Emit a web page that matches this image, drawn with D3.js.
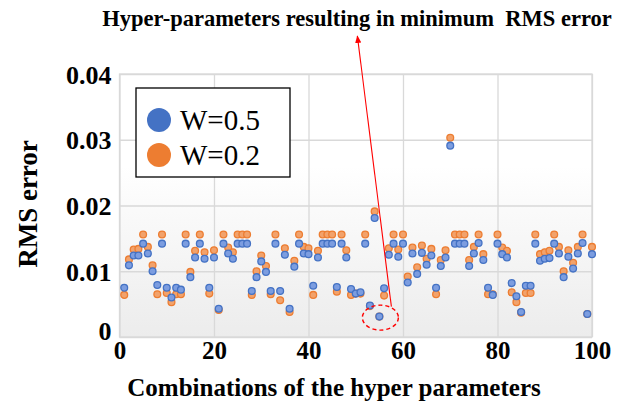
<!DOCTYPE html>
<html>
<head>
<meta charset="utf-8">
<script src="https://cdn.jsdelivr.net/npm/d3@7"></script>
<style>
body { margin: 0; background: #fff; }
</style>
</head>
<body>
<div id="chart"></div>
<script>
// combination index 1..100
var combos = d3.range(1, 101);
var rmsW05 = [0.0075,0.0109,0.0124,0.0124,0.0142,0.0127,0.0100,0.0079,0.0142,0.0075,
  0.0060,0.0075,0.0072,0.0142,0.0091,0.0121,0.0142,0.0119,0.0075,0.0121,
  0.0043,0.0142,0.0127,0.0119,0.0142,0.0142,0.0142,0.0070,0.0091,0.0115,
  0.0099,0.0070,0.0142,0.0070,0.0125,0.0043,0.0107,0.0142,0.0127,0.0126,
  0.0078,0.0121,0.0142,0.0142,0.0142,0.0076,0.0142,0.0121,0.0073,0.0066,
  0.0068,0.0142,0.0048,0.0181,0.0031,0.0074,0.0125,0.0142,0.0122,0.0142,
  0.0083,0.0127,0.0096,0.0128,0.0110,0.0124,0.0075,0.0108,0.0121,0.0291,
  0.0142,0.0142,0.0142,0.0108,0.0127,0.0143,0.0117,0.0075,0.0064,0.0142,
  0.0126,0.0121,0.0082,0.0062,0.0038,0.0078,0.0078,0.0142,0.0116,0.0119,
  0.0120,0.0142,0.0127,0.0091,0.0122,0.0104,0.0127,0.0143,0.0035,0.0126];
var rmsW02 = [0.0064,0.0118,0.0133,0.0134,0.0156,0.0137,0.0109,0.0065,0.0156,0.0067,
  0.0053,0.0065,0.0065,0.0156,0.0099,0.0131,0.0156,0.0129,0.0066,0.0132,
  0.0041,0.0156,0.0136,0.0129,0.0156,0.0156,0.0156,0.0064,0.0100,0.0124,
  0.0108,0.0065,0.0156,0.0056,0.0135,0.0038,0.0116,0.0156,0.0137,0.0135,
  0.0064,0.0131,0.0156,0.0156,0.0156,0.0069,0.0156,0.0132,0.0064,0.0066,
  0.0066,0.0156,0.0047,0.0191,0.0031,0.0063,0.0135,0.0156,0.0133,0.0156,
  0.0092,0.0136,0.0106,0.0139,0.0119,0.0134,0.0065,0.0117,0.0132,0.0303,
  0.0156,0.0156,0.0156,0.0117,0.0137,0.0156,0.0126,0.0065,0.0065,0.0156,
  0.0136,0.0131,0.0068,0.0053,0.0037,0.0067,0.0067,0.0156,0.0126,0.0129,
  0.0131,0.0156,0.0137,0.0100,0.0132,0.0113,0.0137,0.0156,0.0035,0.0137];
var xTicks = [0, 20, 40, 60, 80, 100];
var yTicks = [0, 0.01, 0.02, 0.03, 0.04];
var seriesNames = ["W=0.5", "W=0.2"];
var bestIdx = 55; // minimum RMS error

var mrg = { top: 74, right: 29, bottom: 68, left: 119.5 },
    svgWidth = 621 - mrg.left - mrg.right,
    svgHeight = 405 - mrg.top - mrg.bottom;

var svg = d3.select("#chart")
  .append("svg")
  .attr("width", 621)
  .attr("height", 405)
  .style("font-family", "'Liberation Serif', 'Times New Roman', serif");

var defs = svg.append("defs");
var grad = defs.append("linearGradient")
  .attr("id", "bg").attr("x1", 0).attr("y1", 0).attr("x2", 0).attr("y2", 1);
grad.append("stop").attr("offset", "0.35").attr("stop-color", "#ffffff");
grad.append("stop").attr("offset", "1").attr("stop-color", "#ececec");

defs.append("marker")
  .attr("id", "arrow")
  .attr("viewBox", "0 0 10 10")
  .attr("refX", 9).attr("refY", 5)
  .attr("markerWidth", 7).attr("markerHeight", 7)
  .attr("orient", "auto")
  .append("path")
  .attr("d", "M0,1 L10,5 L0,9 z")
  .attr("fill", "#ff0000");

var chart = svg.append("g")
  .attr("transform", `translate(${mrg.left}, ${mrg.top})`);

var xScale = d3.scaleLinear().domain([0, 100]).range([0, svgWidth]);
var yScale = d3.scaleLinear().domain([0, 0.04]).range([svgHeight, 0]);

chart.append("rect")
  .attr("width", svgWidth)
  .attr("height", svgHeight)
  .attr("fill", "url(#bg)");

// grid
chart.append("g")
  .attr("class", "yGrid")
  .call(d3.axisLeft(yScale).tickValues(yTicks).tickSize(-svgWidth).tickFormat(""))
  .call(g => g.select(".domain").remove())
  .selectAll("line").attr("stroke", "#d9d9d9").attr("stroke-width", 1.3);
chart.append("g")
  .attr("class", "xGrid")
  .attr("transform", `translate(0, ${svgHeight})`)
  .call(d3.axisBottom(xScale).tickValues(xTicks).tickSize(-svgHeight).tickFormat(""))
  .call(g => g.select(".domain").remove())
  .selectAll("line").attr("stroke", "#d9d9d9").attr("stroke-width", 1.3);

chart.append("rect")
  .attr("width", svgWidth)
  .attr("height", svgHeight)
  .attr("fill", "none")
  .attr("stroke", "#d9d9d9")
  .attr("stroke-width", 1.3);

// axes labels
var y_axis = d3.axisLeft(yScale).tickValues(yTicks).tickSize(0).tickPadding(8)
  .tickFormat(function (d) { return d === 0 ? "0" : d.toFixed(2); });
chart.append("g")
  .attr("class", "yAxis")
  .call(y_axis)
  .call(g => g.select(".domain").remove())
  .selectAll("text")
  .attr("fill", "#000")
  .style("font-family", "'Liberation Serif', serif")
  .style("font-weight", "bold")
  .style("font-size", "26px")
  .attr("dy", function (d) { return d === 0 ? "0.1em" : "0.35em"; });

chart.append("g")
  .attr("class", "xAxis")
  .attr("transform", `translate(0, ${svgHeight})`)
  .call(d3.axisBottom(xScale).tickValues(xTicks).tickSize(0).tickPadding(4))
  .call(g => g.select(".domain").remove())
  .selectAll("text")
  .attr("fill", "#000")
  .style("font-family", "'Liberation Serif', serif")
  .style("font-weight", "bold")
  .style("font-size", "25px");

// points: W=0.2 behind, W=0.5 on top
var dataW02 = combos.map(function (c, i) { return { x: c, y: rmsW02[i] }; });
var dataW05 = combos.map(function (c, i) { return { x: c, y: rmsW05[i] }; });

chart.append("g")
  .selectAll("circle")
  .data(dataW02)
  .enter()
  .append("circle")
  .attr("cx", function (d) { return xScale(d.x); })
  .attr("cy", function (d) { return yScale(d.y); })
  .attr("r", 3.4)
  .attr("fill", "#f2a26b")
  .attr("stroke", "#ed7d31")
  .attr("stroke-width", 1.3);

chart.append("g")
  .selectAll("circle")
  .data(dataW05)
  .enter()
  .append("circle")
  .attr("cx", function (d) { return xScale(d.x); })
  .attr("cy", function (d) { return yScale(d.y); })
  .attr("r", 3.4)
  .attr("fill", "#7c9de0")
  .attr("stroke", "#4472c4")
  .attr("stroke-width", 1.3);

// annotation around the minimum
var bx = xScale(bestIdx), by = yScale(rmsW05[bestIdx - 1]);
chart.append("ellipse")
  .attr("cx", bx + 1)
  .attr("cy", by + 1)
  .attr("rx", 18)
  .attr("ry", 12.5)
  .attr("fill", "none")
  .attr("stroke", "#ff0000")
  .attr("stroke-width", 1.4)
  .attr("stroke-dasharray", "4,3");
chart.append("line")
  .attr("x1", bx + 12)
  .attr("y1", by - 10)
  .attr("x2", bx - 22)
  .attr("y2", -mrg.top + 36)
  .attr("stroke", "#ff0000")
  .attr("stroke-width", 1.1)
  .attr("marker-end", "url(#arrow)");

// legend
var legend = svg.append("g").attr("transform", "translate(136, 88)");
legend.append("rect")
  .attr("width", 154)
  .attr("height", 89)
  .attr("fill", "#fff")
  .attr("stroke", "#000")
  .attr("stroke-width", 1.3);
var legColors = ["#4472c4", "#ed7d31"];
seriesNames.forEach(function (name, i) {
  legend.append("circle")
    .attr("cx", 23)
    .attr("cy", 32 + i * 35)
    .attr("r", 12)
    .attr("fill", legColors[i]);
  legend.append("text")
    .attr("x", 44)
    .attr("y", 42 + i * 35)
    .style("font-size", "29px")
    .text(name);
});

// titles
svg.append("text")
  .attr("x", 357)
  .attr("y", 26)
  .attr("text-anchor", "middle")
  .style("font-weight", "bold")
  .style("font-size", "22.5px")
  .style("white-space", "pre")
  .text("Hyper-parameters resulting in minimum  RMS error");

svg.append("text")
  .attr("x", 334)
  .attr("y", 396)
  .attr("text-anchor", "middle")
  .style("font-weight", "bold")
  .style("font-size", "25px")
  .text("Combinations of the hyper parameters");

svg.append("text")
  .attr("transform", "translate(37, 204) rotate(-90)")
  .attr("text-anchor", "middle")
  .style("font-weight", "bold")
  .style("font-size", "27px")
  .text("RMS error");
</script>
</body>
</html>
